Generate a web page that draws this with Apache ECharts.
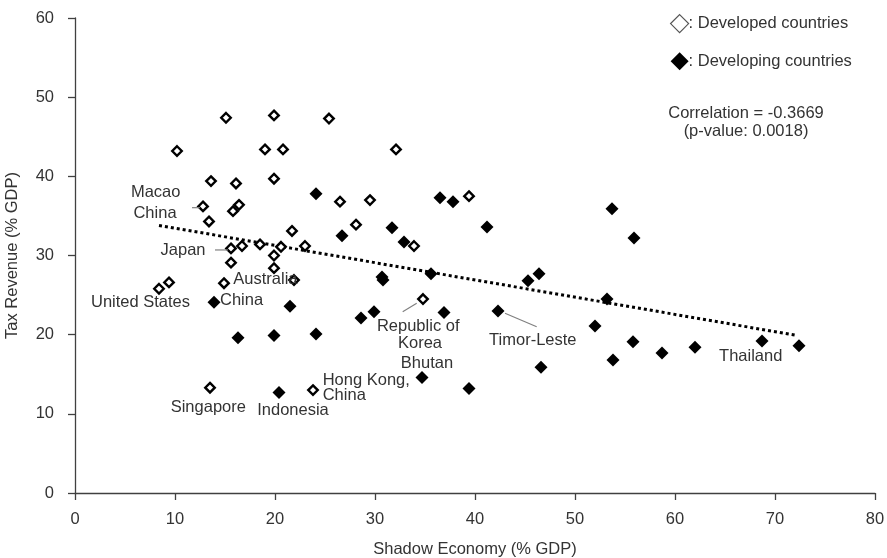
<!DOCTYPE html>
<html>
<head>
<meta charset="utf-8">
<title>Tax Revenue vs Shadow Economy</title>
<script src="https://cdn.jsdelivr.net/npm/echarts@6/dist/echarts.min.js"></script>
<style>
  html, body { margin: 0; padding: 0; background: #fff; }
  #chart { width: 887px; height: 558px; }
</style>
</head>
<body>
<div id="chart"></div>
<script>
const FONT = '"Liberation Sans", Arial, sans-serif';
const TEXT_COLOR = '#333';

// Axis ticks
const xTicks = [0, 10, 20, 30, 40, 50, 60, 70, 80];
const yTicks = [0, 10, 20, 30, 40, 50, 60];

// [shadow economy % GDP, tax revenue % GDP]
const developed = [
  [15.1, 47.4], [19.9, 47.7], [25.4, 47.3], [10.2, 43.2], [19.0, 43.4],
  [20.8, 43.4], [32.1, 43.4], [13.6, 39.4], [16.1, 39.1], [19.9, 39.7],
  [39.4, 37.5], [26.5, 36.8], [29.5, 37.0], [12.8, 36.2], [16.4, 36.4],
  [15.8, 35.6], [13.4, 34.3], [28.1, 33.9], [21.7, 33.1], [15.6, 30.9],
  [16.7, 31.2], [18.5, 31.4], [20.6, 31.1], [23.0, 31.2], [33.9, 31.2],
  [19.9, 30.0], [15.6, 29.1], [19.9, 28.4], [9.4, 26.6], [8.4, 25.8],
  [14.9, 26.5], [21.9, 26.9], [34.8, 24.5], [13.5, 13.3], [23.8, 13.0]
];

const developing = [
  [24.1, 37.8], [36.5, 37.3], [37.8, 36.8], [41.2, 33.6], [26.7, 32.5],
  [31.7, 33.5], [32.9, 31.7], [53.7, 35.9], [55.9, 32.2], [30.7, 27.3],
  [30.8, 26.9], [35.6, 27.7], [46.4, 27.7], [45.3, 26.8], [53.2, 24.5],
  [13.9, 24.1], [21.5, 23.6], [28.6, 22.1], [29.9, 22.9], [36.9, 22.8],
  [42.3, 23.0], [52.0, 21.1], [55.8, 19.1], [58.7, 17.7], [62.0, 18.4],
  [53.8, 16.8], [46.6, 15.9], [68.7, 19.2], [72.4, 18.6], [16.3, 19.6],
  [19.9, 19.9], [24.1, 20.1], [34.7, 14.6], [39.4, 13.2], [20.4, 12.7]
];

// Linear trend endpoints
const trendLine = [[8.4, 33.8], [72.2, 19.9]];

// Country annotations (anchor in data units)
const labelText = [
  'Macao', 'China', 'Japan', 'Australia', 'China', 'United States',
  'Singapore', 'Indonesia', 'Hong Kong,', 'China', 'Republic of', 'Korea',
  'Bhutan', 'Timor-Leste', 'Thailand'
];
const labelPos = [
  [8.07, 37.98], [8.0, 35.33], [10.8, 30.69], [15.83, 26.99], [14.5, 24.38],
  [6.55, 24.04], [13.33, 10.86], [21.8, 10.4], [24.77, 14.27], [24.77, 12.38],
  [34.32, 21.09], [34.5, 18.91], [35.2, 16.38], [45.78, 19.33], [67.57, 17.3]
];
const labelAlign = [
  'center', 'center', 'center', 'left', 'left', 'center',
  'center', 'center', 'left', 'left', 'center', 'center',
  'center', 'center', 'center'
];

// Leader lines from labels to their markers: [x1, y1, x2, y2]
const leaderLines = [
  [11.7, 36.04, 12.5, 36.04],
  [14.0, 30.7, 15.3, 30.7],
  [32.77, 22.9, 34.17, 23.96],
  [43.0, 22.7, 46.17, 21.0]
];

const chart = echarts.init(document.getElementById('chart'), null, { renderer: 'canvas' });

const axisCommon = {
  axisLine: { show: true, lineStyle: { color: '#404040', width: 1.3 } },
  axisTick: { show: true, inside: false, length: 7, lineStyle: { color: '#404040', width: 1.3 } },
  splitLine: { show: false },
  nameTextStyle: { fontFamily: FONT, fontSize: 16.5, color: TEXT_COLOR },
  axisLabel: { fontFamily: FONT, fontSize: 16.5, color: TEXT_COLOR }
};

chart.setOption({
  animation: false,
  backgroundColor: '#fff',
  textStyle: { fontFamily: FONT },
  grid: {
    left: 75, right: 12, top: 18, bottom: 65,
    containLabel: false,
    outerBoundsMode: 'none'
  },
  xAxis: Object.assign({}, axisCommon, {
    type: 'value',
    min: xTicks[0],
    max: xTicks[xTicks.length - 1],
    interval: xTicks[1] - xTicks[0],
    name: 'Shadow Economy (% GDP)',
    nameLocation: 'middle',
    nameGap: 48,
    axisLabel: Object.assign({}, axisCommon.axisLabel, { margin: 18 })
  }),
  yAxis: Object.assign({}, axisCommon, {
    type: 'value',
    min: yTicks[0],
    max: yTicks[yTicks.length - 1],
    interval: yTicks[1] - yTicks[0],
    name: 'Tax Revenue (% GDP)',
    nameLocation: 'middle',
    nameGap: 54,
    axisLabel: Object.assign({}, axisCommon.axisLabel, { margin: 21 })
  }),
  legend: {
    orient: 'vertical',
    left: 665,
    top: 9,
    itemWidth: 18,
    itemHeight: 18,
    itemGap: 19,
    selectedMode: false,
    formatter: ': {name}',
    textStyle: { fontFamily: FONT, fontSize: 16.5, color: TEXT_COLOR, padding: [0, 0, 0, -5] },
    data: [
      { name: 'Developed countries', icon: 'diamond',
        itemStyle: { color: '#fff', borderColor: '#555', borderWidth: 1.2 } },
      { name: 'Developing countries', icon: 'diamond',
        itemStyle: { color: '#000', borderWidth: 0 } }
    ]
  },
  graphic: [{
    type: 'text',
    x: 746,
    y: 104,
    silent: true,
    style: {
      text: 'Correlation = -0.3669\n(p-value: 0.0018)',
      align: 'center',
      verticalAlign: 'top',
      lineHeight: 18.5,
      fontFamily: FONT,
      fontSize: 16.5,
      fill: TEXT_COLOR
    }
  }],
  series: [
    {
      name: 'Trend',
      type: 'line',
      data: trendLine,
      symbol: 'none',
      silent: true,
      z: 1,
      lineStyle: { color: '#000', width: 3, type: [3, 3], cap: 'butt' }
    },
    {
      name: 'Developed countries',
      type: 'scatter',
      data: developed,
      symbol: 'diamond',
      symbolSize: 9.5,
      z: 2,
      itemStyle: { color: '#fff', borderColor: '#000', borderWidth: 2.4, opacity: 1 }
    },
    {
      name: 'Developing countries',
      type: 'scatter',
      data: developing,
      symbol: 'diamond',
      symbolSize: 13,
      z: 3,
      itemStyle: { color: '#000', opacity: 1 }
    },
    {
      name: 'Leader lines',
      type: 'custom',
      data: leaderLines,
      silent: true,
      clip: false,
      z: 4,
      renderItem: function (params, api) {
        const a = api.coord([api.value(0), api.value(1)]);
        const b = api.coord([api.value(2), api.value(3)]);
        return {
          type: 'line',
          shape: { x1: a[0], y1: a[1], x2: b[0], y2: b[1] },
          style: { stroke: '#808080', lineWidth: 1.2 }
        };
      }
    },
    {
      name: 'Country labels',
      type: 'custom',
      data: labelPos,
      silent: true,
      clip: false,
      z: 5,
      renderItem: function (params, api) {
        const p = api.coord([api.value(0), api.value(1)]);
        return {
          type: 'text',
          x: p[0],
          y: p[1],
          style: {
            text: labelText[params.dataIndex],
            align: labelAlign[params.dataIndex],
            verticalAlign: 'middle',
            fontFamily: FONT,
            fontSize: 16.5,
            fill: TEXT_COLOR
          }
        };
      }
    }
  ]
});
</script>
</body>
</html>
